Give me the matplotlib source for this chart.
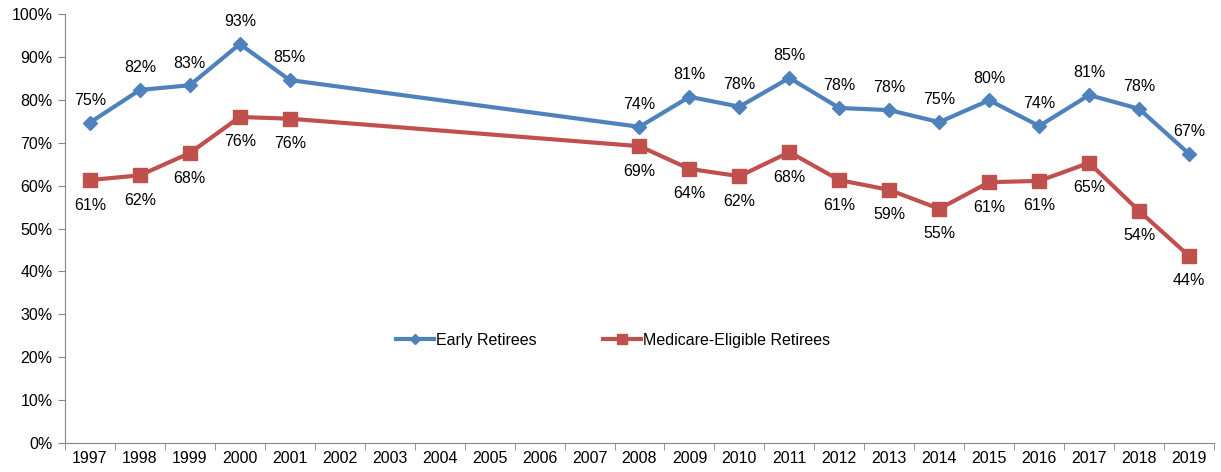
import matplotlib.pyplot as plt
from matplotlib.ticker import FixedLocator

plt.rcParams['font.family'] = ['Liberation Sans', 'DejaVu Sans']

# data
years = [str(y) for y in range(1997, 2020)]
data_years = ["1997", "1998", "1999", "2000", "2001", "2008", "2009", "2010", "2011",
              "2012", "2013", "2014", "2015", "2016", "2017", "2018", "2019"]
early = [74.7, 82.3, 83.4, 93.0, 84.6, 73.7, 80.7, 78.4, 85.1,
         78.1, 77.6, 74.8, 79.9, 73.9, 81.1, 77.9, 67.4]
medicare = [61.3, 62.4, 67.6, 76.0, 75.6, 69.2, 63.9, 62.2, 67.8,
            61.3, 59.0, 54.6, 60.8, 61.1, 65.3, 54.1, 43.6]

blue = "#4F81BD"
red = "#C0504D"
axis_col = "#868686"
fs = 11.5

fig = plt.figure(figsize=(12.21, 4.72), dpi=100)
ax = fig.add_axes([0.0532, 0.0614, 0.9411, 0.9089])

xs = [years.index(y) for y in data_years]

ax.plot(xs, early, color=blue, lw=3, marker="D", ms=7.5, label="Early Retirees")
ax.plot(xs, medicare, color=red, lw=3, marker="s", ms=9.5, label="Medicare-Eligible Retirees")

for x, v in zip(xs, early):
    ax.annotate(f"{round(v)}%", (x, v), xytext=(0, 16), textcoords="offset points",
                ha="center", va="center", fontsize=fs)
for x, v in zip(xs, medicare):
    ax.annotate(f"{round(v)}%", (x, v), xytext=(0, -18), textcoords="offset points",
                ha="center", va="center", fontsize=fs)

ax.set_xlim(-0.5, len(years) - 0.5)
ax.set_ylim(0, 100)
ax.set_xticks(range(len(years)))
ax.set_xticklabels(years, fontsize=fs)
ax.xaxis.set_minor_locator(FixedLocator([i - 0.5 for i in range(len(years) + 1)]))
ax.tick_params(axis="x", which="major", length=0, pad=6)
ax.tick_params(axis="x", which="minor", length=5, color=axis_col)
ax.set_yticks(range(0, 101, 10))
ax.set_yticklabels([f"{v}%" for v in range(0, 101, 10)], fontsize=fs)
ax.tick_params(axis="y", length=5, color=axis_col, pad=4)

for s in ["top", "right"]:
    ax.spines[s].set_visible(False)
for s in ["left", "bottom"]:
    ax.spines[s].set_color(axis_col)

ax.legend(loc="center", bbox_to_anchor=(0.477, 0.24), ncol=2, frameon=False,
          fontsize=fs, columnspacing=4.1, handlelength=2.4, handletextpad=0.15,
          markerscale=0.7)

fig.savefig("out.png", dpi=100)
